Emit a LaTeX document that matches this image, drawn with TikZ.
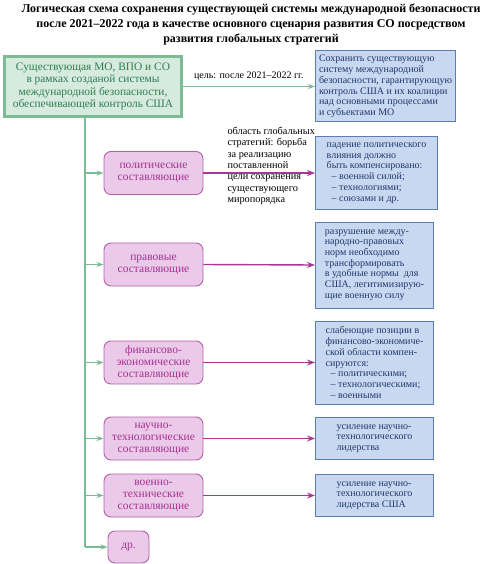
\documentclass[tikz,border=0pt]{standalone}
\usepackage{fontspec}
\setmainfont{Liberation Serif}
\usetikzlibrary{arrows.meta}
\definecolor{grline}{RGB}{125,187,150}
\definecolor{grfill}{RGB}{214,235,222}
\definecolor{grtext}{RGB}{46,125,82}
\definecolor{pkline}{RGB}{180,95,170}
\definecolor{pkfill}{RGB}{234,202,232}
\definecolor{pktext}{RGB}{165,50,145}
\definecolor{pkarrow}{RGB}{172,52,150}
\definecolor{blline}{RGB}{92,125,180}
\definecolor{blfill}{RGB}{200,216,240}
\definecolor{bltext}{RGB}{32,56,110}
\begin{document}
\begin{tikzpicture}[x=1pt,y=-1pt,
  zel/.style={draw=grline,line width=2.5pt,fill=grfill,text=grtext,align=center,
    font=\fontsize{11.4}{12.6}\selectfont,minimum width=177,minimum height=60,inner sep=1pt},
  sost/.style={draw=pkline,line width=0.9pt,fill=pkfill,text=pktext,rounded corners=7pt,
    align=center,font=\fontsize{11.5}{12}\selectfont,minimum width=99,minimum height=43,inner sep=1pt},
  itog/.style={draw=blline,line width=1pt,fill=blfill,text=bltext,align=left,anchor=west,
    font=\fontsize{10}{10.7}\selectfont,minimum width=118,inner sep=2pt},
  gstr/.style={grline,line width=1.2pt,-{Stealth[length=7pt,width=5pt]}},
  pstr/.style={pkarrow,line width=1.4pt,-{Stealth[length=8pt,width=6pt]}}]
\useasboundingbox (0,0) rectangle (485,564);

% title
\node[align=center,font=\fontsize{12}{15}\selectfont\bfseries] (titul) at (251,24)
  {Логическая схема сохранения существующей системы международной безопасности\\
   после 2021--2022 года в качестве основного сценария развития СО посредством\\
   развития глобальных стратегий};

% top row
\node[zel] (zel) at (93,86.5) {Существующая МО, ВПО и СО\\в рамках созданой системы\\
  международной безопасности,\\обеспечивающей контроль США};
\node[itog,minimum width=140,minimum height=71] (r0) at (315,86.5)
  {Сохранить существующую\\систему международной\\безопасности, гарантирующую\\
   контроль США и их коалиции\\над основными процессами\\и субъектами МО};
\draw[gstr] (zel.east) -- node[above=2pt,text=black,font=\fontsize{10}{11}\selectfont]{цель: после 2021--2022 гг.} (r0.west);

% components
\node[sost] (p1) at (153.5,173) {политические\\составляющие};
\node[sost] (p2) at (153.5,264.5) {правовые\\составляющие};
\node[sost] (p3) at (153.5,362.5) {финансово-\\экономические\\составляющие};
\node[sost] (p4) at (153.5,438.5) {научно-\\технологические\\составляющие};
\node[sost] (p5) at (153.5,495.5) {военно-\\технические\\составляющие};
\node[sost,minimum width=41,minimum height=32] (p6) at (128.5,547) {др.};

% results
\node[itog,minimum width=122,minimum height=72] (r1) at (315,173)
  {падение политического\\влияния должно\\быть компенсировано:\\
   \hspace*{5pt}-- военной силой;\\\hspace*{5pt}-- технологиями;\\\hspace*{5pt}-- союзами и др.};
\node[itog,minimum height=86] (r2) at (315,265)
  {разрушение между-\\народно-правовых\\норм необходимо\\трансформировать\\
   в удобные нормы\ \ для\\США, легитимизирую-\\щие военную силу};
\node[itog,minimum height=83] (r3) at (315,362.5)
  {слабеющие позиции в\\финансово-экономиче-\\ской области компен-\\сируются:\\
   \hspace*{5pt}-- политическими;\\\hspace*{5pt}-- технологическими;\\\hspace*{5pt}-- военными};
\node[itog,minimum height=42] (r4) at (315,438.5)
  {усиление научно-\\технологического\\лидерства};
\node[itog,minimum height=42] (r5) at (315,495.5)
  {усиление научно-\\технологического\\лидерства США};

% trunk
\coordinate (niz) at (85,547);
\draw[grline,line width=1.2pt] (zel.south -| niz) -- (niz);
\foreach \n in {p1,p2,p3,p4,p5,p6}{
\draw[gstr] (niz |- \n.west) -- (\n.west);
}
\foreach \n in {1,...,5}{
\draw[pstr] (p\n.east) -- (r\n.west);
}
\node[anchor=west,align=left,font=\fontsize{10.3}{11.3}\selectfont] (oblast) at (224,166)
  {область глобальных\\стратегий: борьба\\за реализацию\\поставленной\\
   цели сохранения\\существующего\\миропорядка};
\end{tikzpicture}
\end{document}
